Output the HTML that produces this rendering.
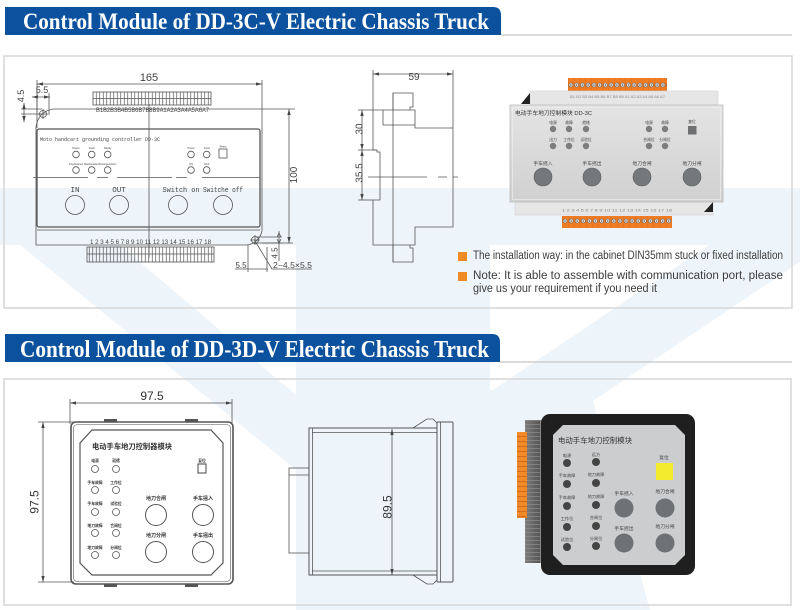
<!DOCTYPE html>
<html><head><meta charset="utf-8"><style>
html,body{margin:0;padding:0;background:#fff;}
svg{display:block;}
</style></head><body>
<svg width="800" height="610" viewBox="0 0 800 610" xmlns="http://www.w3.org/2000/svg" font-family="'Liberation Sans', 'Noto Sans CJK SC', sans-serif">
<defs>
<marker id="a" viewBox="0 0 10 10" refX="10" refY="5" markerWidth="6" markerHeight="6" orient="auto-start-reverse" markerUnits="userSpaceOnUse"><path d="M0,2.2 L10,5 L0,7.8z" fill="#444"/></marker>
<linearGradient id="silver" x1="0" y1="0" x2="0" y2="1"><stop offset="0" stop-color="#e4e4e4"/><stop offset="1" stop-color="#d0d0d0"/></linearGradient>
<linearGradient id="side" x1="0" y1="0" x2="1" y2="0"><stop offset="0" stop-color="#8a8a8a"/><stop offset="1" stop-color="#555"/></linearGradient>
<pattern id="pins" width="3.5" height="30" patternUnits="userSpaceOnUse"><line x1="1.75" y1="0" x2="1.75" y2="30" stroke="#555" stroke-width="0.7"/></pattern>
<pattern id="scr1" width="5.75" height="13" patternUnits="userSpaceOnUse" patternTransform="translate(568,78)"><rect width="5.75" height="13" fill="#f07c24"/><line x1="0" y1="0" x2="0" y2="13" stroke="#c85f12" stroke-width="0.5"/><circle cx="2.9" cy="7" r="2" fill="#f2f2f2" stroke="#555" stroke-width="0.6"/><circle cx="2.9" cy="7" r="0.8" fill="#555"/></pattern>
<pattern id="scr2" width="6.1" height="12" patternUnits="userSpaceOnUse" patternTransform="translate(562,216)"><rect width="6.1" height="12" fill="#f07c24"/><line x1="0" y1="0" x2="0" y2="12" stroke="#c85f12" stroke-width="0.5"/><circle cx="3" cy="5" r="2" fill="#f2f2f2" stroke="#555" stroke-width="0.6"/><circle cx="3" cy="5" r="0.8" fill="#555"/></pattern>
<pattern id="rib" width="20" height="4" patternUnits="userSpaceOnUse"><rect width="20" height="4" fill="url(#side)"/><line x1="0" y1="0.5" x2="20" y2="0.5" stroke="#9a9a9a" stroke-width="0.6"/></pattern>
<pattern id="orib" width="10" height="5" patternUnits="userSpaceOnUse" patternTransform="translate(517,432)"><rect width="10" height="5" fill="#f28a2a"/><line x1="0" y1="4.5" x2="10" y2="4.5" stroke="#c8661a" stroke-width="0.8"/></pattern>
</defs>

<!-- watermark -->
<g fill="#eef5fa">
<rect x="0" y="188" width="800" height="57"/>
<rect x="296" y="188" width="194" height="422"/>
<polygon points="20,245 120,245 296,395 296,470"/>
<polygon points="490,392 709,245 800,245 800,262 490,470"/>
<polygon points="490,390 590,390 650,610 490,610"/>
</g>

<!-- header 1 -->
<path d="M5,7 H493 Q501,7 501,15 V35 H5 Z" fill="#0b519e"/>
<line x1="501" y1="35" x2="792" y2="35" stroke="#cfcfcf" stroke-width="1.5"/>
<text x="23" y="29" font-family="'Liberation Serif', serif" font-weight="bold" font-size="23" fill="#fff" textLength="466" lengthAdjust="spacingAndGlyphs">Control Module of DD-3C-V Electric Chassis Truck</text>
<rect x="4" y="56" width="788" height="252" fill="none" stroke="#d6d6d6" stroke-width="1.5"/>

<!-- header 2 -->
<path d="M5,334 H492 Q500,334 500,342 V362 H5 Z" fill="#0b519e"/>
<line x1="500" y1="362" x2="792" y2="362" stroke="#cfcfcf" stroke-width="1.5"/>
<text x="20" y="357" font-family="'Liberation Serif', serif" font-weight="bold" font-size="24" fill="#fff" textLength="469" lengthAdjust="spacingAndGlyphs">Control Module of DD-3D-V Electric Chassis Truck</text>
<rect x="4" y="379" width="787" height="226" fill="none" stroke="#d6d6d6" stroke-width="1.5"/>

<!-- ========== DD-3C front drawing ========== -->
<g stroke="#555" stroke-width="0.8" fill="none">
<line x1="37" y1="84" x2="262" y2="84" marker-start="url(#a)" marker-end="url(#a)"/>
<line x1="37" y1="80" x2="37" y2="128"/>
<line x1="262" y1="80" x2="262" y2="109"/>
<rect x="93" y="92" width="118" height="13" fill="url(#pins)"/>
<line x1="93" y1="98.5" x2="211" y2="98.5"/>
<path d="M53,109 H295"/>
<path d="M36,127 Q38,112 53,109"/>
<circle cx="43" cy="114" r="3.5"/>
<path d="M38,114 H48 M43,109 V119"/>
<path d="M36,127 V245 H247"/>
<path d="M247,245 Q259,243 262,231 V109"/>
<circle cx="255" cy="240" r="3.5"/>
<path d="M250,240 H260 M255,235 V245"/>
<rect x="37" y="129" width="223" height="98" rx="2" stroke-width="1.3"/>
<line x1="37" y1="230" x2="260" y2="230"/>
<line x1="149" y1="104" x2="149" y2="258"/>
<path d="M33,177.5 H88 M97,177.5 H108 M117,177.5 H172 M176,177.5 H187 M202,177.5 H260"/>
<circle cx="76" cy="154.5" r="3.3"/><circle cx="91.7" cy="154.5" r="3.3"/><circle cx="107.7" cy="154.5" r="3.3"/>
<circle cx="76" cy="170" r="3.3"/><circle cx="91.7" cy="170" r="3.3"/><circle cx="107.7" cy="170" r="3.3"/>
<circle cx="191" cy="154.5" r="3.3"/><circle cx="206.7" cy="154.5" r="3.3"/>
<circle cx="191" cy="170" r="3.3"/><circle cx="206.7" cy="170" r="3.3"/>
<rect x="219" y="149" width="8" height="9"/>
<circle cx="75" cy="205" r="9.5"/><circle cx="119" cy="205" r="9.5"/><circle cx="178" cy="205" r="9.5"/><circle cx="223" cy="205" r="9.5"/>
<rect x="87" y="247" width="127" height="15" fill="url(#pins)"/>
<line x1="87" y1="254" x2="214" y2="254"/>
<line x1="289" y1="109" x2="289" y2="243" marker-start="url(#a)" marker-end="url(#a)"/>
<line x1="262" y1="243" x2="293" y2="243"/>
<!-- top-left small dims -->
<line x1="32" y1="97" x2="50" y2="97" marker-start="url(#a)" marker-end="url(#a)"/>
<line x1="37" y1="93" x2="37" y2="112"/>
<line x1="49" y1="93" x2="49" y2="115"/>
<line x1="24" y1="103" x2="24" y2="122" marker-start="url(#a)" marker-end="url(#a)"/>
<line x1="21" y1="109" x2="42" y2="109"/>
<line x1="21" y1="114" x2="42" y2="114"/>
<!-- bottom-right small dims -->
<line x1="279" y1="231" x2="279" y2="261" />
<path d="M277,237 L279,233 L281,237 M277,239 L279,243 L281,239" />
<line x1="256" y1="237" x2="282" y2="237"/>
<line x1="256" y1="243" x2="282" y2="243"/>
<line x1="235" y1="269" x2="268" y2="269"/>
<line x1="248" y1="245" x2="248" y2="272"/>
<line x1="267" y1="247" x2="267" y2="272"/>
<path d="M255,241 L272,269 H312"/>
</g>
<g fill="#444">
<text x="149" y="81" text-anchor="middle" font-size="11">165</text>
<text x="96" y="112" font-size="6" textLength="113" lengthAdjust="spacingAndGlyphs">B1B2B3B4B5B6B7B8B9A1A2A3A4A5A6A7</text>
<text x="40" y="141" font-family="'Liberation Mono', monospace" font-size="5.5" textLength="120" lengthAdjust="spacingAndGlyphs">Moto handcart grounding controller DD-3C</text>
<g font-size="2.6" text-anchor="middle">
<text x="76" y="149">Power</text><text x="91.7" y="149">Fault</text><text x="107.7" y="149">Ready</text>
<text x="76" y="165">Insydistance</text><text x="91.7" y="165">Rackoutation</text><text x="107.7" y="165">Testingposition</text>
<text x="191" y="149">Power</text><text x="206.7" y="149">Fault</text><text x="223" y="147.5">Reset</text>
<text x="191" y="165">ON</text><text x="206.7" y="165">OFF</text>
</g>
<g font-family="'Liberation Mono', monospace" font-size="7.5" text-anchor="middle">
<text x="75" y="192">IN</text>
<text x="119" y="192">OUT</text>
<text x="181" y="192" textLength="37" lengthAdjust="spacingAndGlyphs">Switch on</text>
<text x="223" y="192" textLength="40" lengthAdjust="spacingAndGlyphs">Switche off</text>
</g>
<text x="90" y="244" font-size="6" textLength="121" lengthAdjust="spacingAndGlyphs">1 2 3 4 5 6 7 8 9 10 11 12 13 14 15 16 17 18</text>
<text x="297" y="175" font-size="10" text-anchor="middle" transform="rotate(-90 297 175)">100</text>
<text x="24" y="96" font-size="9" text-anchor="middle" transform="rotate(-90 24 96)">4.5</text>
<text x="42" y="93" font-size="9" text-anchor="middle">5.5</text>
<text x="277.5" y="253" font-size="8" text-anchor="middle" transform="rotate(-90 277.5 253)">4.5</text>
<text x="241" y="268" font-size="8" text-anchor="middle">5.5</text>
<text x="273" y="268" font-size="8" textLength="39" lengthAdjust="spacingAndGlyphs">2−4.5×5.5</text>
</g>

<!-- ========== DD-3C side drawing ========== -->
<g stroke="#555" stroke-width="0.8" fill="none">
<line x1="373" y1="74" x2="453" y2="74" marker-start="url(#a)" marker-end="url(#a)"/>
<line x1="373" y1="70" x2="373" y2="150"/>
<line x1="453" y1="70" x2="453" y2="128"/>
<path d="M393,110 V93 H413 V107 H410 V110"/>
<path d="M383,110 H415 V128 H453 V227 H415 V245 H373 V200 H380 V152 H377 V150 H373"/>
<path d="M383,110 V125 H415"/>
<line x1="393" y1="93" x2="393" y2="262"/>
<path d="M393,245 V262 H413 V248 H410 V245"/>
<line x1="362" y1="110" x2="362" y2="150" marker-start="url(#a)" marker-end="url(#a)"/>
<line x1="362" y1="150" x2="362" y2="200" marker-start="url(#a)" marker-end="url(#a)"/>
<line x1="358" y1="110" x2="383" y2="110"/>
<line x1="358" y1="150" x2="377" y2="150"/>
<line x1="358" y1="200" x2="373" y2="200"/>
<path d="M368,177 H427 M438,177 H447 M453,177 H458"/>
</g>
<g fill="#444" font-size="10">
<text x="414" y="80" text-anchor="middle">59</text>
<text x="362.5" y="129" text-anchor="middle" transform="rotate(-90 362.5 129)">30</text>
<text x="362.5" y="173" text-anchor="middle" transform="rotate(-90 362.5 173)">35.5</text>
</g>

<!-- ========== DD-3C photo ========== -->
<rect x="568" y="78" width="99" height="13" fill="url(#scr1)"/>
<rect x="530" y="91" width="188" height="15" fill="#e6e6e6" stroke="#d2d2d2" stroke-width="0.6"/>
<text x="570" y="98" font-size="3.2" fill="#888" textLength="95" lengthAdjust="spacingAndGlyphs">B1 B2 B3 B4 B5 B6 B7 B8 B9 A1 A2 A3 A4 A5 A6 A7</text>
<polygon points="521,104 530,93 530,104" fill="#222"/>
<rect x="515" y="201" width="198" height="14" fill="#e6e6e6" stroke="#d2d2d2" stroke-width="0.6"/>
<polygon points="704,212 713,202 713,212" fill="#222"/>
<rect x="510" y="105" width="213" height="97" fill="url(#silver)" stroke="#bcbcbc" stroke-width="0.8"/>
<rect x="512.5" y="107.5" width="208" height="92" fill="none" stroke="#eeeeee" stroke-width="0.7"/>
<text x="562" y="211.5" font-size="3.2" fill="#888" textLength="110" lengthAdjust="spacingAndGlyphs">1 2 3 4 5 6 7 8 9 10 11 12 13 14 15 16 17 18</text>
<rect x="562" y="216" width="110" height="12" fill="url(#scr2)"/>
<text x="515" y="115" font-size="5.5" fill="#333" textLength="77" lengthAdjust="spacingAndGlyphs">电动手车地刀控制模块 DD-3C</text>
<g fill="#7b7d7e">
<circle cx="553" cy="129" r="3.2"/><circle cx="569" cy="129" r="3.2"/><circle cx="586" cy="129" r="3.2"/>
<circle cx="553" cy="146" r="3.2"/><circle cx="569" cy="146" r="3.2"/><circle cx="586" cy="146" r="3.2"/>
<circle cx="649" cy="129" r="3.2"/><circle cx="665" cy="129" r="3.2"/>
<circle cx="649" cy="146" r="3.2"/><circle cx="665" cy="146" r="3.2"/>
</g>
<rect x="688" y="126" width="8.5" height="8.5" fill="#6e7071"/>
<g fill="#444" font-size="3.8" text-anchor="middle">
<text x="553" y="124">电源</text><text x="569" y="124">故障</text><text x="586" y="124">就绪</text>
<text x="553" y="141">出刀</text><text x="569" y="141">工作位</text><text x="586" y="141">试验位</text>
<text x="649" y="124">电源</text><text x="665" y="124">故障</text><text x="692" y="123">复位</text>
<text x="649" y="141">合闸位</text><text x="665" y="141">分闸位</text>
</g>
<g fill="#75787a" stroke="#5c5e60" stroke-width="0.6">
<circle cx="543" cy="177" r="9"/><circle cx="592" cy="177" r="9"/><circle cx="642" cy="177" r="9"/><circle cx="692" cy="177" r="9"/>
</g>
<g fill="#444" font-size="4.8" text-anchor="middle">
<text x="543" y="165">手车摇入</text><text x="592" y="165">手车摇出</text><text x="642" y="165">地刀合闸</text><text x="692" y="165">地刀分闸</text>
</g>

<!-- notes -->
<rect x="458" y="252" width="9" height="9" fill="#f08a24"/>
<rect x="458" y="272" width="9" height="9" fill="#f08a24"/>
<g fill="#3c3c3c" font-size="11.5">
<text x="473" y="259" textLength="310" lengthAdjust="spacingAndGlyphs">The installation way: in the cabinet DIN35mm stuck or fixed installation</text>
<text x="473" y="279" textLength="310" lengthAdjust="spacingAndGlyphs">Note:  It  is  able  to  assemble  with  communication  port,  please</text>
<text x="473" y="292" textLength="184" lengthAdjust="spacingAndGlyphs">give us your requirement if you need it</text>
</g>

<!-- ========== DD-3D front drawing ========== -->
<g stroke="#555" stroke-width="0.8" fill="none">
<line x1="70" y1="403" x2="232" y2="403" marker-start="url(#a)" marker-end="url(#a)"/>
<line x1="70" y1="399" x2="70" y2="424"/>
<line x1="232" y1="399" x2="232" y2="424"/>
<line x1="43" y1="422" x2="43" y2="582" marker-start="url(#a)" marker-end="url(#a)"/>
<line x1="38" y1="422" x2="74" y2="422"/>
<line x1="38" y1="582" x2="74" y2="582"/>
<rect x="71" y="422" width="162" height="162" rx="5" stroke-width="1.6"/>
<rect x="73.5" y="424.5" width="157" height="157" rx="4" stroke-width="0.6"/>
<polygon points="92,430 211,430 223,443 223,563 211,575 92,575 80,563 80,443" stroke-width="1.2"/>
<g fill="#555" stroke="none">
<rect x="104" y="419" width="13" height="3.5"/><rect x="185" y="419" width="13" height="3.5"/>
<rect x="104" y="583.5" width="13" height="3.5"/><rect x="185" y="583.5" width="13" height="3.5"/>
</g>
<circle cx="95" cy="469" r="3.5"/><circle cx="116" cy="469" r="3.5"/>
<circle cx="95" cy="490" r="3.5"/><circle cx="116" cy="490" r="3.5"/>
<circle cx="95" cy="512" r="3.5"/><circle cx="116" cy="512" r="3.5"/>
<circle cx="95" cy="533" r="3.5"/><circle cx="116" cy="533" r="3.5"/>
<circle cx="95" cy="555" r="3.5"/><circle cx="116" cy="555" r="3.5"/>
<rect x="198" y="464" width="8" height="9" stroke-width="1.1"/>
<circle cx="156" cy="515" r="10.5" stroke-width="1"/><circle cx="203" cy="515" r="10.5" stroke-width="1"/>
<circle cx="156" cy="552" r="10.5" stroke-width="1"/><circle cx="203" cy="552" r="10.5" stroke-width="1"/>
</g>
<g fill="#333">
<text x="152" y="400" text-anchor="middle" font-size="12">97.5</text>
<text x="38.5" y="502" text-anchor="middle" font-size="12" transform="rotate(-90 38.5 502)">97.5</text>
<text x="92" y="449" font-size="7.3" font-weight="bold" textLength="80" lengthAdjust="spacingAndGlyphs">电动手车地刀控制器模块</text>
<g font-size="3.8" font-weight="bold" text-anchor="middle">
<text x="95" y="462">电源</text><text x="116" y="462">就绪</text>
<text x="95" y="484">手车故障</text><text x="116" y="484">工作位</text>
<text x="95" y="505">手车故障</text><text x="116" y="505">试验位</text>
<text x="95" y="527">地刀故障</text><text x="116" y="527">合闸位</text>
<text x="95" y="549">地刀故障</text><text x="116" y="549">分闸位</text>
<text x="202" y="462">复位</text>
</g>
<g font-size="5" font-weight="bold" text-anchor="middle">
<text x="156" y="500">地刀合闸</text><text x="203" y="500">手车摇入</text>
<text x="156" y="537">地刀分闸</text><text x="203" y="537">手车摇出</text>
</g>
</g>

<!-- ========== DD-3D side drawing ========== -->
<g stroke="#555" stroke-width="0.8" fill="none">
<rect x="309" y="428" width="128" height="147" stroke-width="1"/>
<line x1="312.5" y1="428" x2="312.5" y2="575"/>
<line x1="312" y1="432.5" x2="437" y2="432.5"/>
<line x1="312" y1="571" x2="437" y2="571"/>
<rect x="437" y="422" width="16" height="160" rx="1" stroke-width="1"/>
<line x1="440.5" y1="422" x2="440.5" y2="582"/>
<polyline points="413,428 427,419 433,419 437,423"/>
<polyline points="413,575 427,584 433,584 437,580"/>
<rect x="289" y="468" width="20" height="85"/>
<line x1="289" y1="475" x2="309" y2="475"/>
<line x1="392" y1="429" x2="392" y2="575" marker-start="url(#a)" marker-end="url(#a)"/>
</g>
<text x="391.5" y="507" text-anchor="middle" font-size="12" fill="#333" transform="rotate(-90 391.5 507)">89.5</text>

<!-- ========== DD-3D photo ========== -->
<rect x="525" y="420" width="22" height="143" fill="url(#rib)"/>
<rect x="517" y="432" width="10" height="86" fill="url(#orib)"/>
<rect x="541" y="414" width="154" height="161" rx="9" fill="#1f1f1f"/>
<polygon points="563,425 675,425 685,435 685,555 675,565 563,565 553,555 553,435" fill="#cbcdce"/>
<text x="558" y="443" font-size="7.3" fill="#333" textLength="74" lengthAdjust="spacingAndGlyphs">电动手车地刀控制模块</text>
<g fill="#444">
<circle cx="567" cy="463" r="4"/><circle cx="596" cy="462" r="4"/>
<circle cx="567" cy="484" r="4"/><circle cx="596" cy="483" r="4"/>
<circle cx="567" cy="506" r="4"/><circle cx="596" cy="505" r="4"/>
<circle cx="567" cy="527" r="4"/><circle cx="596" cy="526" r="4"/>
<circle cx="567" cy="547" r="4"/><circle cx="596" cy="546" r="4"/>
</g>
<rect x="656" y="463" width="17" height="17" fill="#f3ec2e"/>
<g fill="#444" font-size="4.2" text-anchor="middle">
<text x="567" y="457">电源</text><text x="596" y="456">远方</text>
<text x="567" y="477">手车故障</text><text x="596" y="476">地刀故障</text>
<text x="567" y="499">手车故障</text><text x="596" y="498">地刀故障</text>
<text x="567" y="520">工作位</text><text x="596" y="519">合闸位</text>
<text x="567" y="541">试验位</text><text x="596" y="540">分闸位</text>
<text x="664" y="459" font-size="4.8">复位</text>
</g>
<g fill="#6e7275">
<circle cx="624" cy="508" r="9.5"/><circle cx="665" cy="508" r="9.5"/>
<circle cx="624" cy="543" r="9.5"/><circle cx="665" cy="543" r="9.5"/>
</g>
<g fill="#444" font-size="4.8" text-anchor="middle">
<text x="624" y="495">手车摇入</text><text x="665" y="493">地刀合闸</text>
<text x="624" y="530">手车摇出</text><text x="665" y="528">地刀分闸</text>
</g>
</svg>
</body></html>
